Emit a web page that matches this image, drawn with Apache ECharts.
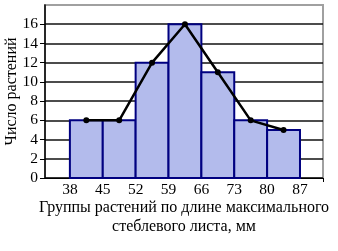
<!DOCTYPE html>
<html>
<head>
<meta charset="utf-8">
<script src="https://cdn.jsdelivr.net/npm/echarts@6/dist/echarts.min.js"></script>
<style>html,body{margin:0;padding:0;background:#fff}#c{width:338px;height:251px}</style>
</head>
<body>
<div id="c"></div>
<script>
const edges = [38, 45, 52, 59, 66, 73, 80, 87];
const counts = [6, 6, 12, 16, 11, 6, 5];
const yTicks = [0, 2, 4, 6, 8, 10, 12, 14, 16];
const xTitle = 'Группы растений по длине максимального\nстеблевого листа, мм';
const yTitle = 'Число растений';

const bins = counts.map((c, i) => [edges[i], edges[i + 1], c]);
const mids = counts.map((c, i) => [(edges[i] + edges[i + 1]) / 2, c]);
const font = '"Liberation Serif", "DejaVu Serif", serif';

const chart = echarts.init(document.getElementById('c'), null, {renderer: 'canvas'});
chart.setOption({
  animation: false,
  backgroundColor: '#fff',
  grid: {left: 45, right: 15, top: 5, bottom: 73, outerBoundsMode: 'none', containLabel: false,
         show: true, borderColor: '#a0a0a0', borderWidth: 2, backgroundColor: '#fff'},
  xAxis: {
    type: 'value', min: 32.7, max: 91.9,
    name: xTitle, nameLocation: 'middle', nameGap: 20, nameMoveOverlap: false,
    nameTextStyle: {fontFamily: font, fontSize: 16, color: '#000', lineHeight: 19, verticalAlign: 'top'},
    axisLine: {show: true, lineStyle: {color: '#000', width: 1}},
    axisTick: {show: true, customValues: [91.9], length: 4, lineStyle: {color: '#000'}},
    axisLabel: {customValues: edges, fontFamily: font, fontSize: 15.5, color: '#000', margin: 4},
    splitLine: {show: false}
  },
  yAxis: {
    type: 'value', min: 0, max: 18, interval: 2,
    name: yTitle, nameLocation: 'middle', nameGap: 25, nameRotate: 90, nameMoveOverlap: false,
    nameTextStyle: {fontFamily: font, fontSize: 16, color: '#000'},
    axisLine: {show: true, lineStyle: {color: '#000', width: 1.5}},
    axisTick: {show: true, customValues: yTicks, length: 5, lineStyle: {color: '#000'}},
    axisLabel: {customValues: yTicks, fontFamily: font, fontSize: 15.5, color: '#000', margin: 7},
    splitLine: {show: true, lineStyle: {color: '#111', width: 1.5}}
  },
  series: [
    {
      type: 'custom',
      data: bins,
      encode: {x: [0, 1], y: 2},
      renderItem: function (params, api) {
        const p0 = api.coord([api.value(0), api.value(2)]);
        const p1 = api.coord([api.value(1), 0]);
        return {
          type: 'rect',
          shape: {x: p0[0], y: p0[1], width: p1[0] - p0[0], height: p1[1] - p0[1]},
          style: {fill: '#b3bbec', stroke: '#000080', lineWidth: 2}
        };
      },
      z: 2
    },
    {
      type: 'line',
      data: mids,
      symbol: 'circle', symbolSize: 6,
      lineStyle: {color: '#000', width: 2.5},
      itemStyle: {color: '#000'},
      z: 3
    }
  ]
});
</script>
</body>
</html>
